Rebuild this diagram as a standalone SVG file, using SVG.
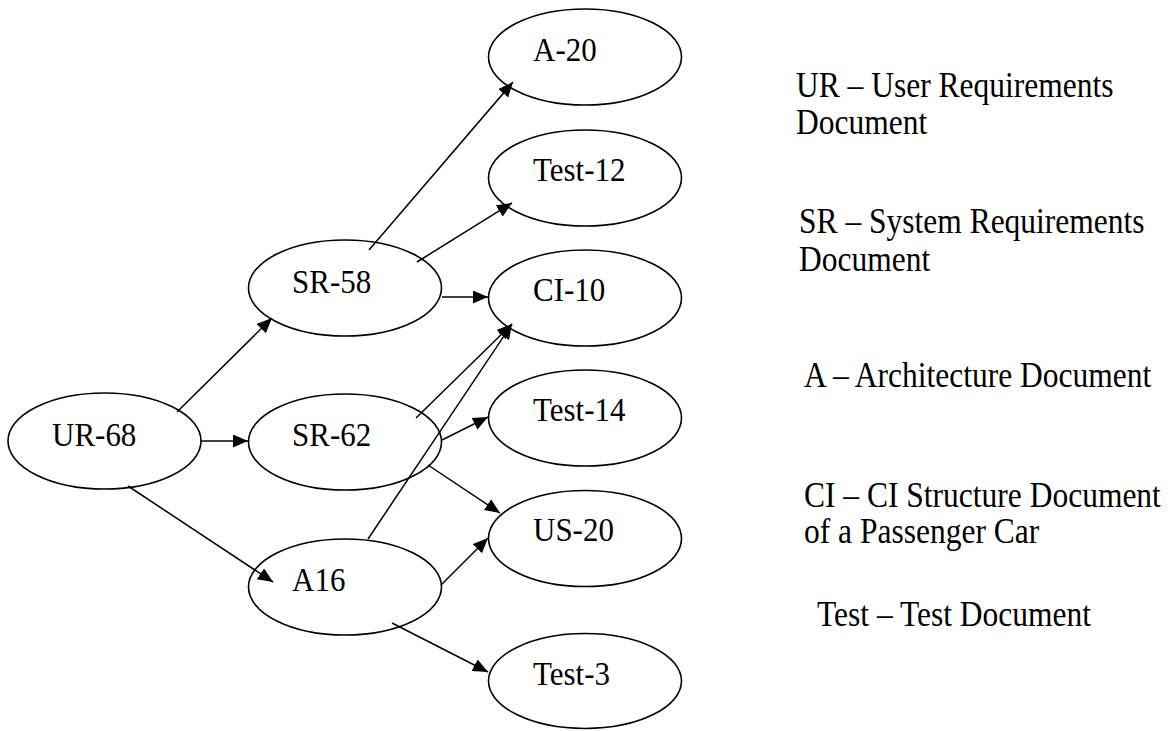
<svg xmlns="http://www.w3.org/2000/svg" width="1171" height="731" viewBox="0 0 1171 731">
  <style>
    .node ellipse { fill: none; stroke: #000; stroke-width: 1.6; }
    .node text, .legend text { font-family: "Liberation Serif", "Times New Roman", serif; fill: #000; }
    .node text { font-size: 31px; }
    .legend text { font-size: 31.5px; }
    .edges line { stroke: #000; stroke-width: 1.5; marker-end: url(#arrow); }
  </style>
  <defs>
    <marker id="arrow" markerUnits="userSpaceOnUse" markerWidth="16" markerHeight="14" refX="15" refY="6.5" orient="auto">
      <path d="M0,0 L15,6.5 L0,13 z" fill="#000"/>
    </marker>
  </defs>
  <rect width="1171" height="731" fill="#fff"/>

  <!-- connectors -->
  <g class="edges" id="edges">
    <line x1="177" y1="412" x2="272" y2="318"/>
    <line x1="201" y1="441" x2="248" y2="441"/>
    <line x1="128" y1="486" x2="273" y2="582"/>
    <line x1="369" y1="250" x2="513" y2="82"/>
    <line x1="417" y1="262" x2="512" y2="203"/>
    <line x1="442" y1="297" x2="488" y2="297"/>
    <line x1="416" y1="418" x2="512" y2="324"/>
    <line x1="368" y1="539" x2="512" y2="324"/>
    <line x1="442" y1="440" x2="488" y2="417"/>
    <line x1="428" y1="465" x2="500" y2="513"/>
    <line x1="441" y1="585" x2="488" y2="538"/>
    <line x1="392" y1="623" x2="488" y2="672"/>
  </g>

  <!-- nodes -->
  <g class="node" id="node-ur68">
    <ellipse cx="104.5" cy="441" rx="96.5" ry="48"/>
    <text transform="translate(52,446) scale(1,1.12)">UR-68</text>
  </g>
  <g class="node" id="node-sr58">
    <ellipse cx="345" cy="288" rx="96.5" ry="48"/>
    <text transform="translate(292,293) scale(1,1.12)">SR-58</text>
  </g>
  <g class="node" id="node-sr62">
    <ellipse cx="345" cy="442" rx="96.5" ry="48"/>
    <text transform="translate(292,446) scale(1,1.12)">SR-62</text>
  </g>
  <g class="node" id="node-a16">
    <ellipse cx="345" cy="587" rx="96.5" ry="48"/>
    <text transform="translate(292,591) scale(1,1.12)">A16</text>
  </g>
  <g class="node" id="node-a20">
    <ellipse cx="585" cy="57" rx="96.5" ry="48"/>
    <text transform="translate(533,61) scale(1,1.12)">A-20</text>
  </g>
  <g class="node" id="node-test12">
    <ellipse cx="585" cy="178" rx="96.5" ry="48"/>
    <text transform="translate(533,181) scale(1,1.12)">Test-12</text>
  </g>
  <g class="node" id="node-ci10">
    <ellipse cx="585" cy="298" rx="96.5" ry="48"/>
    <text transform="translate(533,301) scale(1,1.12)">CI-10</text>
  </g>
  <g class="node" id="node-test14">
    <ellipse cx="585" cy="418" rx="96.5" ry="48"/>
    <text transform="translate(533,421) scale(1,1.12)">Test-14</text>
  </g>
  <g class="node" id="node-us20">
    <ellipse cx="585" cy="538.5" rx="96.5" ry="48"/>
    <text transform="translate(533,541) scale(1,1.12)">US-20</text>
  </g>
  <g class="node" id="node-test3">
    <ellipse cx="585" cy="681" rx="96.5" ry="47.5"/>
    <text transform="translate(533,685) scale(1,1.12)">Test-3</text>
  </g>

  <!-- abbreviation key -->
  <g class="legend" id="legend">
    <text transform="translate(796,97) scale(1,1.12)">UR – User Requirements</text>
    <text transform="translate(796,134) scale(1,1.12)">Document</text>
    <text transform="translate(799,233) scale(1,1.12)">SR – System Requirements</text>
    <text transform="translate(799,271) scale(1,1.12)">Document</text>
    <text transform="translate(804,387) scale(1,1.12)">A – Architecture Document</text>
    <text transform="translate(804,507) scale(1,1.12)">CI – CI Structure Document</text>
    <text transform="translate(804,543) scale(1,1.12)">of a Passenger Car</text>
    <text transform="translate(817,626) scale(1,1.12)">Test – Test Document</text>
  </g>
</svg>
